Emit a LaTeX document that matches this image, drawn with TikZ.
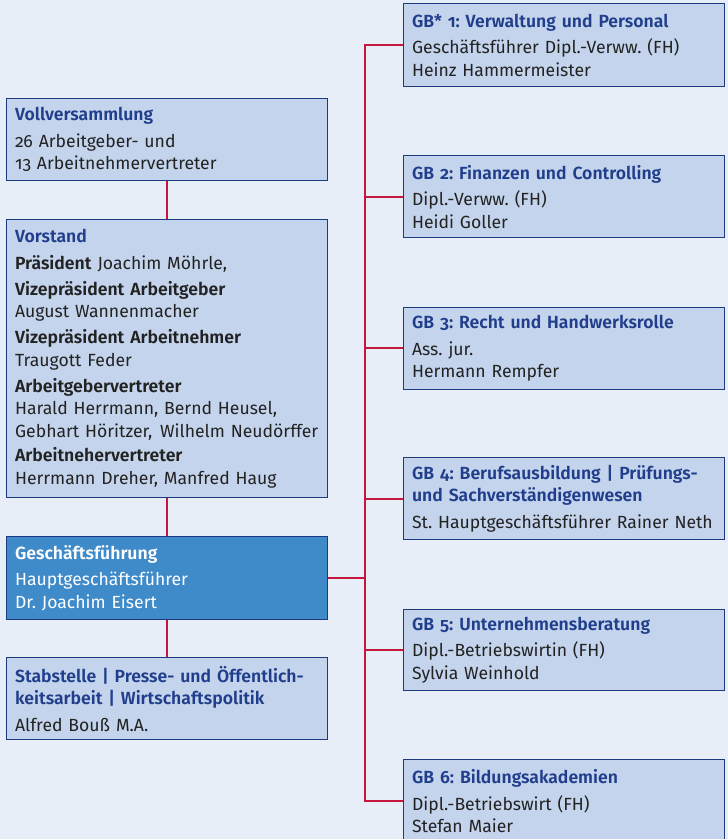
\documentclass[tikz,border=0pt]{standalone}
\usepackage{fontspec}
\setmainfont{Fira Sans}[Numbers=OldStyle, BoldFont={Fira Sans SemiBold}]
\hyphenpenalty=10000
\definecolor{bgc}{HTML}{E8EEF7}
\definecolor{boxfill}{HTML}{C4D4EC}
\definecolor{boxline}{HTML}{1D3A80}
\definecolor{titlec}{HTML}{203E8C}
\definecolor{bodyc}{HTML}{222222}
\definecolor{gffill}{HTML}{3F8AC9}
\definecolor{linkc}{HTML}{C5163D}
\tikzset{
  orgbox/.style={draw=boxline, line width=1.2pt, fill=boxfill, anchor=north west,
    minimum width=321pt, minimum height=#1, text width=304pt, inner xsep=8.5pt,
    align=left, text=bodyc, font=\fontsize{17.6}{22.5}\selectfont\frenchspacing},
  orgbox/.default=82.5pt,
  gfbox/.style={orgbox, fill=gffill, text=white},
  link/.style={draw=linkc, line width=2.2pt},
}
\newcommand{\ttl}[1]{\textcolor{titlec}{\bfseries #1}}
\begin{document}
\begin{tikzpicture}[x=1pt,y=-1pt]
\fill[bgc] (0,0) rectangle (728,839);
\useasboundingbox (0,0) rectangle (728,839);
\clip (0,0) rectangle (728,839);
% left column
\node[orgbox=82pt] (vv) at (6,98) {\ttl{Vollversammlung}\\[4pt]26 Arbeitgeber- und\\13 Arbeitnehmervertreter};
\node[orgbox=278pt] (vs) at (6,219) {\ttl{Vorstand}\\[4pt]
  \textbf{Präsident} Joachim Möhrle,\\[3.5pt]
  \textbf{Vizepräsident Arbeitgeber}\\August Wannenmacher\\[3.5pt]
  \textbf{Vizepräsident Arbeitnehmer}\\Traugott Feder\\[3.5pt]
  \textbf{Arbeitgebervertreter}\\Harald Herrmann, Bernd Heusel,\\\mbox{Gebhart Höritzer,\hspace{2pt} Wilhelm Neudörffer}\\[2pt]
  \textbf{Arbeitnehervertreter}\\Herrmann Dreher, Manfred Haug};
\node[gfbox=82pt] (gf) at (6,536) {\textbf{Geschäftsführung}\\[4pt]Hauptgeschäftsführer\\Dr. Joachim Eisert};
\node[orgbox=82pt] (sb) at (6,657) {\ttl{Stabstelle | Presse- und Öffentlich-}\\\ttl{keitsarbeit | Wirtschaftspolitik}\\[4pt]Alfred Bouß M.A.};
% right column
\node[orgbox=83pt] (gb1) at (403,3) {\ttl{GB* 1: Verwaltung und Personal}\\[4pt]Geschäftsführer Dipl.-Verww. (FH)\\Heinz Hammermeister};
\node[orgbox=82pt] (gb2) at (403,155) {\ttl{GB 2: Finanzen und Controlling}\\[4pt]Dipl.-Verww. (FH)\\Heidi Goller};
\node[orgbox=81.5pt] (gb3) at (403,307) {\ttl{GB 3: Recht und Handwerksrolle}\\[4pt]Ass. jur.\\Hermann Rempfer};
\node[orgbox=82pt] (gb4) at (403,457) {\ttl{GB 4: Berufsausbildung | Prüfungs-}\\\ttl{und Sachverständigenwesen}\\[4pt]\mbox{St. Hauptgeschäftsführer Rainer Neth}};
\node[orgbox=81pt] (gb5) at (403,609) {\ttl{GB 5: Unternehmensberatung}\\[4pt]Dipl.-Betriebswirtin (FH)\\Sylvia Weinhold};
\node[orgbox=83pt] (gb6) at (403,759) {\ttl{GB 6: Bildungsakademien}\\[4pt]Dipl.-Betriebswirt (FH)\\Stefan Maier};
% connectors
\coordinate (tk) at (365,0);
\draw[link] (vv.south) -- (vs.north);
\draw[link] (vs.south) -- (gf.north);
\draw[link] (gf.south) -- (sb.north);
\draw[link] (gf.east) -- (gf.east -| tk);
\draw[link] (gb1.west) -- (gb1.west -| tk) |- (gb6.west);
\draw[link] (gb2.west) -- (gb2.west -| tk);
\draw[link] (gb3.west) -- (gb3.west -| tk);
\draw[link] (gb4.west) -- (gb4.west -| tk);
\draw[link] (gb5.west) -- (gb5.west -| tk);
\end{tikzpicture}
\end{document}
